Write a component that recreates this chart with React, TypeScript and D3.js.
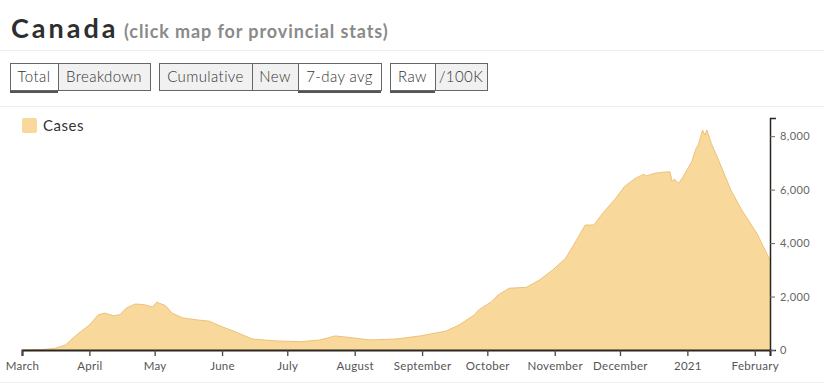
import * as d3 from "d3";
import { useEffect, useRef } from "react";

// 7-day average of new cases
const dates = [
  "2020-03-01", "2020-03-11", "2020-03-16", "2020-03-21", "2020-03-26", "2020-04-01",
  "2020-04-05", "2020-04-08", "2020-04-12", "2020-04-15", "2020-04-18", "2020-04-22",
  "2020-04-26", "2020-04-30", "2020-05-02", "2020-05-06", "2020-05-09", "2020-05-14",
  "2020-05-21", "2020-05-26", "2020-06-01", "2020-06-07", "2020-06-15", "2020-06-26",
  "2020-07-07", "2020-07-16", "2020-07-23", "2020-07-29", "2020-08-08", "2020-08-20",
  "2020-08-31", "2020-09-12", "2020-09-18", "2020-09-25", "2020-09-27", "2020-10-03",
  "2020-10-06", "2020-10-11", "2020-10-19", "2020-10-25", "2020-10-31", "2020-11-06",
  "2020-11-11", "2020-11-15", "2020-11-19", "2020-11-23", "2020-11-29", "2020-12-03",
  "2020-12-08", "2020-12-12", "2020-12-13", "2020-12-17", "2020-12-20", "2020-12-24",
  "2020-12-25", "2020-12-26", "2020-12-28", "2020-12-30", "2021-01-03", "2021-01-05",
  "2021-01-06", "2021-01-08", "2021-01-09", "2021-01-10", "2021-01-12", "2021-01-15",
  "2021-01-21", "2021-01-26", "2021-02-02", "2021-02-05", "2021-02-08",
];
const cases = [
  0, 20, 60, 190, 560, 935,
  1310, 1380, 1280, 1320, 1570, 1720,
  1700, 1610, 1790, 1660, 1380, 1200,
  1120, 1080, 870, 685, 410, 340,
  310, 375, 525, 475, 375, 410,
  525, 710, 935, 1310, 1500, 1810,
  2060, 2310, 2345, 2620, 2990, 3430,
  4110, 4675, 4675, 5110, 5670, 6110,
  6420, 6580, 6510, 6610, 6645, 6670,
  6300, 6400, 6235, 6480, 7040, 7540,
  7670, 8230, 8040, 8230, 7730, 7170,
  5985, 5240, 4360, 3860, 3365,
];
const yTicks = [0, 2000, 4000, 6000, 8000];
const seriesName = "Cases";

const buttonGroups = [
  [{ label: "Total", on: true, w: 48 }, { label: "Breakdown", on: false, w: 92 }],
  [
    { label: "Cumulative", on: false, w: 93 },
    { label: "New", on: false, w: 46 },
    { label: "7-day avg", on: true, w: 83 },
  ],
  [{ label: "Raw", on: true, w: 45 }, { label: "/100K", on: false, w: 52 }],
];

const W = 824;
const H = 391;
const FONT = "Lato, 'Open Sans', sans-serif";

export default function App() {
  const xAxisRef = useRef<SVGGElement>(null);
  const yAxisRef = useRef<SVGGElement>(null);

  const parse = d3.timeParse("%Y-%m-%d");
  const data = dates.map((d, i) => ({ date: parse(d) as Date, value: cases[i] }));

  const margin = { left: 22, right: 54, top: 118, bottom: 41 };
  const x = d3
    .scaleTime()
    .domain([parse("2020-03-01") as Date, parse("2021-02-08") as Date])
    .range([margin.left, W - margin.right]);
  const y = d3.scaleLinear().domain([0, 8680]).range([H - margin.bottom, margin.top]);

  const area = d3
    .area<{ date: Date; value: number }>()
    .x((d) => x(d.date))
    .y0(y(0))
    .y1((d) => y(d.value));
  const line = d3
    .line<{ date: Date; value: number }>()
    .x((d) => x(d.date))
    .y((d) => y(d.value));

  useEffect(() => {
    const gx = d3.select(xAxisRef.current!);
    gx.selectAll("*").remove();
    gx.call(
      d3
        .axisBottom(x)
        .ticks(d3.timeMonth.every(1))
        .tickSize(6)
        .tickSizeOuter(6)
        .tickFormat((d) => {
          const dt = d as Date;
          return dt.getMonth() === 0 ? d3.timeFormat("%Y")(dt) : d3.timeFormat("%B")(dt);
        })
    );
    gx.select(".domain").attr("stroke", "#2a2520").attr("stroke-width", 2);
    gx.selectAll(".tick line").attr("stroke", "#444").attr("stroke-width", 1.3);
    gx.selectAll(".tick text")
      .attr("fill", "#555")
      .attr("font-size", 11.5)
      .attr("font-family", FONT)
      .attr("letter-spacing", 0.3)
      .attr("dy", "0.95em");

    const gy = d3.select(yAxisRef.current!);
    gy.selectAll("*").remove();
    gy.call(
      d3
        .axisRight(y)
        .tickValues(yTicks)
        .tickSize(5)
        .tickSizeOuter(6)
        .tickFormat(d3.format(","))
    );
    gy.select(".domain").attr("stroke", "#2a2520").attr("stroke-width", 1.5);
    gy.selectAll(".tick line").attr("stroke", "#666");
    gy.selectAll(".tick text")
      .attr("fill", "#666")
      .attr("font-size", 11)
      .attr("font-family", FONT)
      .attr("letter-spacing", 0.4)
      .attr("x", 10);
  }, []);

  // button layout
  const btnTop = 63;
  const btnH = 27;
  let bx = 10;
  const buttons: JSX.Element[] = [];
  buttonGroups.forEach((group, gi) => {
    group.forEach((b, bi) => {
      const w = b.w;
      buttons.push(
        <g key={`${gi}-${bi}`}>
          {b.on && <rect x={bx} y={btnTop} width={w} height={btnH + 3} fill="#555" />}
          <rect
            x={bx + 0.5}
            y={btnTop + 0.5}
            width={w}
            height={btnH}
            fill={b.on ? "#fff" : "#f1f1f1"}
            stroke="#666"
            strokeWidth={1}
          />
          <text
            x={bx + w / 2}
            y={btnTop + btnH / 2 + 5.5}
            textAnchor="middle"
            fontSize={15}
            fontWeight={300}
            letterSpacing={0.4}
            fill="#333"
            fontFamily={FONT}
          >
            {b.label}
          </text>
        </g>
      );
      bx += w;
    });
    bx += 9;
  });

  return (
    <div style={{ position: "absolute", left: 0, top: 0 }}>
      <svg width={W} height={H} style={{ display: "block", background: "#fff" }}>
        <text
          x={11}
          y={38}
          fontFamily={FONT}
          fontWeight="bold"
          fontSize={27}
          letterSpacing={3}
          fill="#2e2e2e"
        >
          Canada
        </text>
        <text
          x={124}
          y={38}
          fontFamily={FONT}
          fontWeight="bold"
          fontSize={18}
          letterSpacing={0.9}
          fill="#8a8a8a"
        >
          (click map for provincial stats)
        </text>
        <line x1={0} x2={W} y1={50.5} y2={50.5} stroke="#eee" />
        {buttons}
        <line x1={0} x2={W} y1={106.5} y2={106.5} stroke="#eee" />

        <rect x={22} y={118} width={15} height={15} rx={2} fill="#f9d99b" />
        <text x={43} y={131} fontFamily={FONT} fontSize={15} letterSpacing={0.5} fill="#333">
          {seriesName}
        </text>

        <path d={area(data) ?? ""} fill="#f9d99b" />
        <path d={line(data) ?? ""} fill="none" stroke="#ecc27a" strokeWidth={1} />

        <g ref={xAxisRef} transform={`translate(0,${H - margin.bottom})`} />
        <g ref={yAxisRef} transform={`translate(${W - margin.right},0)`} />

        <line x1={0} x2={W} y1={382.5} y2={382.5} stroke="#eee" />
      </svg>
    </div>
  );
}
